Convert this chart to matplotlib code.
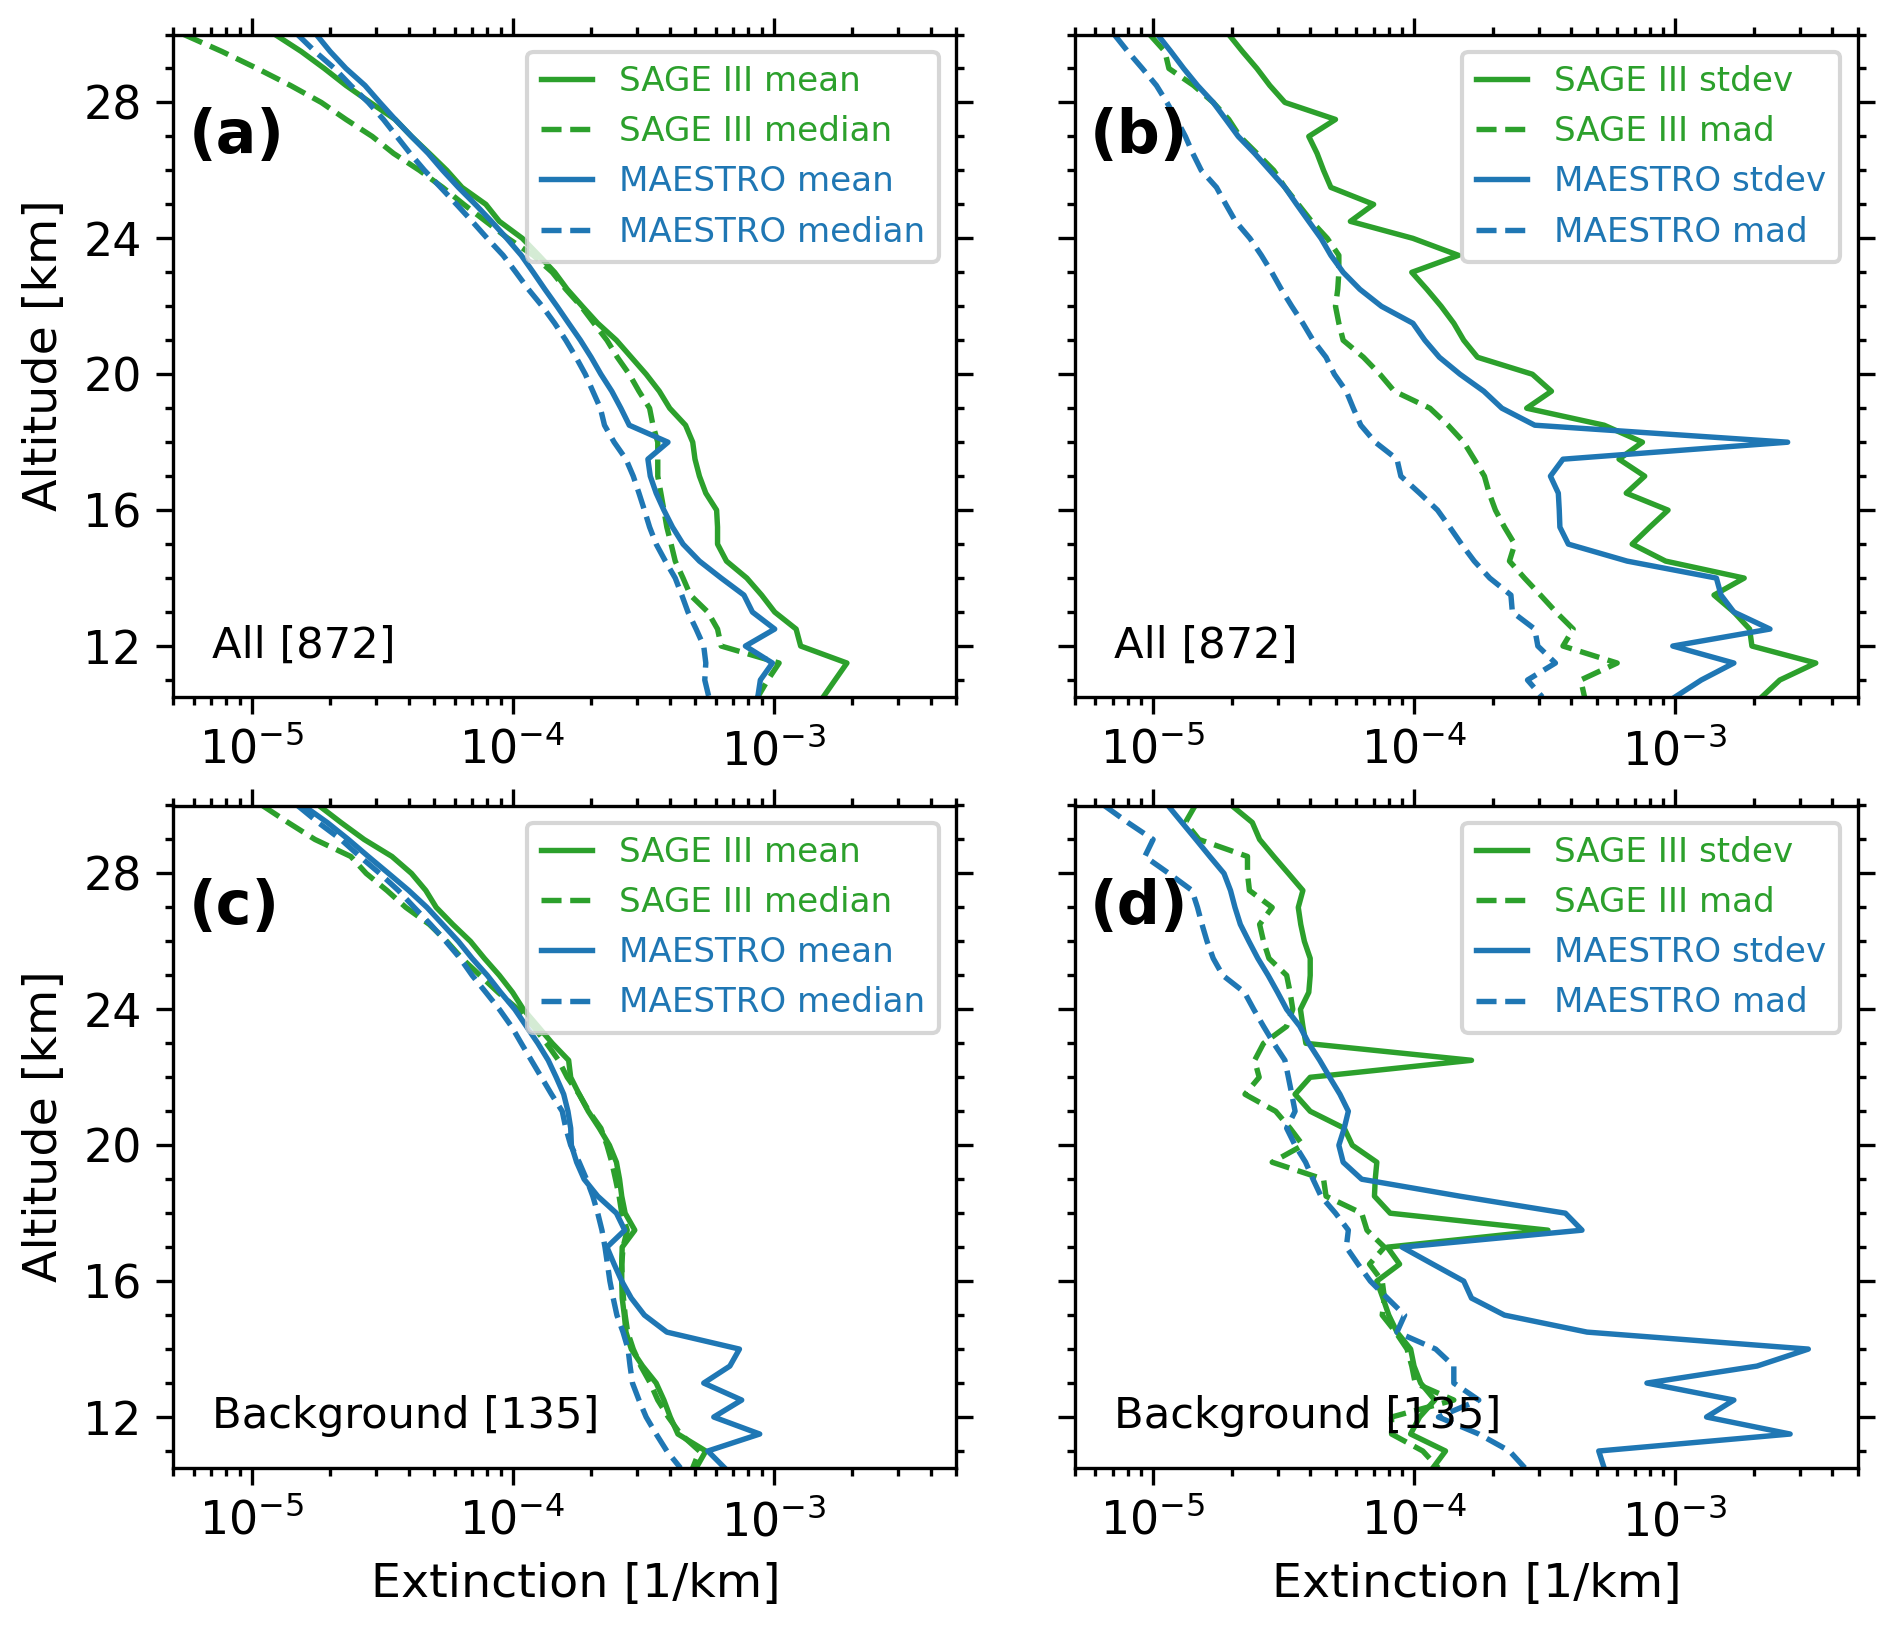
import numpy as np
import matplotlib
matplotlib.use("Agg")
import matplotlib.pyplot as plt
from matplotlib.ticker import MultipleLocator

# ---------------- data ----------------
altitude = [30.0, 29.5, 29.0, 28.5, 28.0, 27.5, 27.0, 26.5, 26.0, 25.5,
            25.0, 24.5, 24.0, 23.5, 23.0, 22.5, 22.0, 21.5, 21.0, 20.5,
            20.0, 19.5, 19.0, 18.5, 18.0, 17.5, 17.0, 16.5, 16.0, 15.5,
            15.0, 14.5, 14.0, 13.5, 13.0, 12.5, 12.0, 11.5, 11.0, 10.5]

# (a) All [872]
a_sage_mean = [1.23e-5, 1.55e-5, 1.9e-5, 2.3e-5, 2.85e-5, 3.55e-5, 4.1e-5, 4.8e-5, 5.6e-5, 6.4e-5,
               7.9e-5, 8.9e-5, 1.09e-4, 1.26e-4, 1.45e-4, 1.62e-4, 1.85e-4, 2.12e-4, 2.5e-4, 2.85e-4,
               3.25e-4, 3.65e-4, 4.0e-4, 4.6e-4, 4.9e-4, 5.0e-4, 5.2e-4, 5.5e-4, 6.05e-4, 6.1e-4,
               6.1e-4, 6.6e-4, 7.9e-4, 9.0e-4, 1.01e-3, 1.22e-3, 1.27e-3, 1.91e-3, 1.72e-3, 1.55e-3]
a_sage_median = [5.5e-6, 7.7e-6, 1.05e-5, 1.41e-5, 1.85e-5, 2.3e-5, 2.9e-5, 3.5e-5, 4.4e-5, 5.4e-5,
                 6.5e-5, 7.9e-5, 9.6e-5, 1.2e-4, 1.42e-4, 1.6e-4, 1.83e-4, 2.05e-4, 2.3e-4, 2.52e-4,
                 2.8e-4, 3.05e-4, 3.35e-4, 3.45e-4, 3.6e-4, 3.6e-4, 3.6e-4, 3.7e-4, 3.8e-4, 3.9e-4,
                 4.05e-4, 4.2e-4, 4.5e-4, 4.8e-4, 5.6e-4, 6.1e-4, 6.3e-4, 1.05e-3, 9.5e-4, 8.7e-4]
a_maestro_mean = [1.77e-5, 2.0e-5, 2.3e-5, 2.72e-5, 3.1e-5, 3.55e-5, 4.1e-5, 4.75e-5, 5.4e-5, 6.2e-5,
                  7.2e-5, 8.3e-5, 9.5e-5, 1.08e-4, 1.2e-4, 1.33e-4, 1.48e-4, 1.64e-4, 1.82e-4, 2.0e-4,
                  2.18e-4, 2.4e-4, 2.6e-4, 2.8e-4, 3.94e-4, 3.3e-4, 3.37e-4, 3.55e-4, 3.8e-4, 4.1e-4,
                  4.5e-4, 5.2e-4, 6.3e-4, 7.7e-4, 8.3e-4, 1.01e-3, 7.8e-4, 9.9e-4, 8.9e-4, 8.7e-4]
a_maestro_median = [1.5e-5, 1.75e-5, 2.08e-5, 2.4e-5, 2.8e-5, 3.2e-5, 3.6e-5, 4.05e-5, 4.6e-5, 5.3e-5,
                    6.1e-5, 7.0e-5, 8.0e-5, 9.2e-5, 1.03e-4, 1.15e-4, 1.3e-4, 1.45e-4, 1.6e-4, 1.75e-4,
                    1.9e-4, 2.03e-4, 2.17e-4, 2.25e-4, 2.45e-4, 2.72e-4, 2.9e-4, 3.05e-4, 3.2e-4, 3.35e-4,
                    3.55e-4, 3.85e-4, 4.2e-4, 4.45e-4, 4.7e-4, 5.05e-4, 5.4e-4, 5.5e-4, 5.45e-4, 5.65e-4]

# (b) All [872]
b_sage_stdev = [1.95e-5, 2.2e-5, 2.5e-5, 2.8e-5, 3.2e-5, 5.0e-5, 3.95e-5, 4.25e-5, 4.5e-5, 4.8e-5,
                7.0e-5, 5.7e-5, 9.9e-5, 1.48e-4, 9.8e-5, 1.12e-4, 1.27e-4, 1.42e-4, 1.55e-4, 1.75e-4,
                2.84e-4, 3.36e-4, 2.7e-4, 5.35e-4, 7.5e-4, 6.1e-4, 7.65e-4, 6.5e-4, 9.4e-4, 8.0e-4,
                6.85e-4, 9.2e-4, 1.84e-3, 1.41e-3, 1.68e-3, 1.93e-3, 1.97e-3, 3.46e-3, 2.52e-3, 2.15e-3]
b_sage_mad = [9.7e-6, 1.11e-5, 1.15e-5, 1.43e-5, 1.7e-5, 1.95e-5, 2.15e-5, 2.5e-5, 2.9e-5, 3.2e-5,
              3.6e-5, 4.05e-5, 4.65e-5, 5.15e-5, 5.15e-5, 5.1e-5, 5.0e-5, 5.15e-5, 5.35e-5, 6.4e-5,
              7.4e-5, 8.4e-5, 1.15e-4, 1.35e-4, 1.55e-4, 1.7e-4, 1.86e-4, 1.94e-4, 2.05e-4, 2.22e-4,
              2.43e-4, 2.32e-4, 2.65e-4, 3.05e-4, 3.5e-4, 4.07e-4, 3.72e-4, 6.0e-4, 4.35e-4, 4.5e-4]
b_maestro_stdev = [1.04e-5, 1.17e-5, 1.31e-5, 1.48e-5, 1.7e-5, 1.9e-5, 2.12e-5, 2.45e-5, 2.8e-5, 3.2e-5,
                   3.55e-5, 3.95e-5, 4.4e-5, 4.8e-5, 5.35e-5, 6.2e-5, 7.5e-5, 9.9e-5, 1.1e-4, 1.25e-4,
                   1.5e-4, 1.85e-4, 2.17e-4, 2.9e-4, 2.7e-3, 3.72e-4, 3.33e-4, 3.57e-4, 3.6e-4, 3.62e-4,
                   3.9e-4, 6.55e-4, 1.44e-3, 1.5e-3, 1.68e-3, 2.31e-3, 9.8e-4, 1.68e-3, 1.26e-3, 1.0e-3]
b_maestro_mad = [7.1e-6, 8.0e-6, 9.1e-6, 1.03e-5, 1.13e-5, 1.23e-5, 1.33e-5, 1.42e-5, 1.53e-5, 1.75e-5,
                 1.9e-5, 2.07e-5, 2.35e-5, 2.6e-5, 2.85e-5, 3.1e-5, 3.4e-5, 3.75e-5, 4.1e-5, 4.6e-5,
                 4.95e-5, 5.5e-5, 5.85e-5, 6.25e-5, 7.1e-5, 8.6e-5, 8.9e-5, 1.05e-4, 1.23e-4, 1.37e-4,
                 1.52e-4, 1.7e-4, 1.95e-4, 2.35e-4, 2.38e-4, 2.9e-4, 2.98e-4, 3.48e-4, 2.72e-4, 3.1e-4]

# (c) Background [135]
c_sage_mean = [1.81e-5, 2.2e-5, 2.7e-5, 3.45e-5, 4.1e-5, 4.65e-5, 5.1e-5, 5.9e-5, 6.9e-5, 7.8e-5,
               8.9e-5, 1.0e-4, 1.1e-4, 1.25e-4, 1.42e-4, 1.64e-4, 1.67e-4, 1.8e-4, 1.95e-4, 2.15e-4,
               2.35e-4, 2.5e-4, 2.57e-4, 2.62e-4, 2.7e-4, 2.94e-4, 2.63e-4, 2.62e-4, 2.62e-4, 2.63e-4,
               2.68e-4, 2.72e-4, 2.85e-4, 3.15e-4, 3.55e-4, 3.8e-4, 4.02e-4, 4.3e-4, 5.5e-4, 5.05e-4]
c_sage_median = [1.1e-5, 1.38e-5, 1.75e-5, 2.4e-5, 2.75e-5, 3.3e-5, 3.9e-5, 4.8e-5, 5.6e-5, 6.4e-5,
                 7.5e-5, 8.8e-5, 1.05e-4, 1.2e-4, 1.35e-4, 1.5e-4, 1.62e-4, 1.8e-4, 1.96e-4, 2.18e-4,
                 2.3e-4, 2.4e-4, 2.48e-4, 2.56e-4, 2.62e-4, 2.75e-4, 2.65e-4, 2.62e-4, 2.63e-4, 2.66e-4,
                 2.7e-4, 2.76e-4, 2.9e-4, 3.1e-4, 3.37e-4, 3.6e-4, 3.95e-4, 4.4e-4, 5.2e-4, 4.9e-4]
c_maestro_mean = [1.58e-5, 1.95e-5, 2.35e-5, 2.8e-5, 3.35e-5, 4.0e-5, 4.7e-5, 5.4e-5, 6.2e-5, 7.0e-5,
                  8.0e-5, 9.0e-5, 1.02e-4, 1.13e-4, 1.25e-4, 1.37e-4, 1.47e-4, 1.57e-4, 1.63e-4, 1.67e-4,
                  1.68e-4, 1.76e-4, 1.88e-4, 2.12e-4, 2.5e-4, 2.69e-4, 2.3e-4, 2.45e-4, 2.62e-4, 2.85e-4,
                  3.2e-4, 3.9e-4, 7.4e-4, 6.8e-4, 5.4e-4, 7.55e-4, 5.9e-4, 8.85e-4, 5.6e-4, 6.5e-4]
c_maestro_median = [1.5e-5, 1.8e-5, 2.2e-5, 2.6e-5, 3.1e-5, 3.65e-5, 4.2e-5, 4.85e-5, 5.55e-5, 6.3e-5,
                    7.0e-5, 7.9e-5, 8.9e-5, 9.9e-5, 1.08e-4, 1.18e-4, 1.29e-4, 1.41e-4, 1.55e-4, 1.6e-4,
                    1.67e-4, 1.8e-4, 1.92e-4, 2.03e-4, 2.12e-4, 2.2e-4, 2.26e-4, 2.31e-4, 2.36e-4, 2.43e-4,
                    2.51e-4, 2.65e-4, 2.77e-4, 2.82e-4, 2.88e-4, 3.05e-4, 3.25e-4, 3.55e-4, 3.9e-4, 4.4e-4]

# (d) Background [135]
d_sage_stdev = [2.0e-5, 2.4e-5, 2.56e-5, 2.9e-5, 3.3e-5, 3.75e-5, 3.6e-5, 3.68e-5, 3.8e-5, 4.0e-5,
                4.0e-5, 3.95e-5, 3.67e-5, 3.75e-5, 3.85e-5, 1.66e-4, 4.0e-5, 3.5e-5, 4.0e-5, 5.4e-5,
                5.8e-5, 7.2e-5, 7.1e-5, 7.05e-5, 8.1e-5, 3.26e-4, 7.9e-5, 8.8e-5, 7.2e-5, 7.6e-5,
                8.0e-5, 8.6e-5, 9.7e-5, 1.0e-4, 1.06e-4, 1.2e-4, 1.05e-4, 9.7e-5, 1.32e-4, 1.18e-4]
d_sage_mad = [1.45e-5, 1.33e-5, 1.5e-5, 2.3e-5, 2.3e-5, 2.34e-5, 2.86e-5, 2.56e-5, 2.65e-5, 2.78e-5,
              3.25e-5, 3.35e-5, 3.43e-5, 3.25e-5, 2.65e-5, 2.45e-5, 2.55e-5, 2.25e-5, 2.95e-5, 3.35e-5,
              3.75e-5, 2.86e-5, 4.5e-5, 4.6e-5, 6.3e-5, 6.6e-5, 7.7e-5, 6.75e-5, 7.55e-5, 7.7e-5,
              7.55e-5, 8.5e-5, 9.4e-5, 9.8e-5, 1.01e-4, 1.42e-4, 8.2e-5, 8.2e-5, 1.08e-4, 1.24e-4]
d_maestro_stdev = [1.14e-5, 1.29e-5, 1.46e-5, 1.65e-5, 1.87e-5, 1.98e-5, 2.06e-5, 2.16e-5, 2.33e-5, 2.52e-5,
                   2.76e-5, 3.0e-5, 3.25e-5, 3.65e-5, 3.95e-5, 4.35e-5, 4.75e-5, 5.2e-5, 5.6e-5, 5.4e-5,
                   5.15e-5, 5.35e-5, 6.3e-5, 1.5e-4, 3.8e-4, 4.4e-4, 9.0e-5, 1.18e-4, 1.55e-4, 1.66e-4,
                   2.22e-4, 4.6e-4, 3.24e-3, 2.06e-3, 7.8e-4, 1.68e-3, 1.32e-3, 2.76e-3, 5.1e-4, 5.35e-4]
d_maestro_mad = [6.5e-6, 8.0e-6, 1.0e-5, 9.3e-6, 1.15e-5, 1.41e-5, 1.48e-5, 1.54e-5, 1.61e-5, 1.7e-5,
                 1.85e-5, 2.24e-5, 2.43e-5, 2.65e-5, 2.9e-5, 3.2e-5, 3.3e-5, 3.4e-5, 3.5e-5, 3.25e-5,
                 3.5e-5, 3.84e-5, 4.1e-5, 4.4e-5, 5.0e-5, 5.6e-5, 5.5e-5, 6.1e-5, 6.8e-5, 7.9e-5,
                 9.2e-5, 8.6e-5, 1.21e-4, 1.42e-4, 1.42e-4, 1.77e-4, 1.24e-4, 1.77e-4, 2.32e-4, 2.66e-4]

panel_tags = ["(a)", "(b)", "(c)", "(d)"]
group_texts = ["All [872]", "All [872]", "Background [135]", "Background [135]"]
labels_mean = ["SAGE III mean", "SAGE III median", "MAESTRO mean", "MAESTRO median"]
labels_std = ["SAGE III stdev", "SAGE III mad", "MAESTRO stdev", "MAESTRO mad"]
xlabel = "Extinction [1/km]"
ylabel = "Altitude [km]"

GREEN = "#2ca02c"
BLUE = "#1f77b4"

panels = [
    ([a_sage_mean, a_sage_median, a_maestro_mean, a_maestro_median], labels_mean),
    ([b_sage_stdev, b_sage_mad, b_maestro_stdev, b_maestro_mad], labels_std),
    ([c_sage_mean, c_sage_median, c_maestro_mean, c_maestro_median], labels_mean),
    ([d_sage_stdev, d_sage_mad, d_maestro_stdev, d_maestro_mad], labels_std),
]

W, H = 1892, 1625
DPI = 300
fig = plt.figure(figsize=(W / DPI, H / DPI), dpi=DPI)

lefts = [173 / W, 1074.5 / W]
width = 783 / W
bottoms = [1 - 697 / H, 1 - 1468 / H]
height = 662.5 / H

styles = [(GREEN, "-"), (GREEN, "--"), (BLUE, "-"), (BLUE, "--")]

for i, (series, labels) in enumerate(panels):
    row, col = divmod(i, 2)
    ax = fig.add_axes([lefts[col], bottoms[row], width, height])
    for vals, lab, (c, ls) in zip(series, labels, styles):
        ax.plot(vals, altitude, color=c, ls=ls, lw=1.3, label=lab)
    ax.set_xscale("log")
    ax.set_xlim(5e-6, 5e-3)
    ax.set_ylim(10.5, 30)
    ax.yaxis.set_major_locator(MultipleLocator(4))
    ax.yaxis.set_minor_locator(MultipleLocator(1))
    ax.tick_params(which="both", top=True, right=True, direction="out",
                   labelsize=11, width=0.8)
    ax.tick_params(which="major", length=4)
    ax.tick_params(which="minor", length=2)
    for sp in ax.spines.values():
        sp.set_linewidth(0.8)
    if col == 1:
        ax.tick_params(labelleft=False)
    else:
        ax.set_ylabel(ylabel, fontsize=11.4)
        ax.yaxis.label.set_y(0.516)
    if row == 1:
        ax.set_xlabel(xlabel, fontsize=11.4)
        ax.xaxis.label.set_x(0.514)
    leg = ax.legend(loc="upper right", fontsize=8.2, handlelength=1.5,
                    handletextpad=0.8)
    for txt, c in zip(leg.get_texts(), [GREEN, GREEN, BLUE, BLUE]):
        txt.set_color(c)
    ax.text(0.02, 0.89, panel_tags[i], transform=ax.transAxes, fontsize=14.5,
            fontweight="bold", va="top", ha="left")
    ax.text(0.05, 0.06, group_texts[i], transform=ax.transAxes, fontsize=10.4,
            va="baseline", ha="left")

fig.savefig("out.png", dpi=DPI)
